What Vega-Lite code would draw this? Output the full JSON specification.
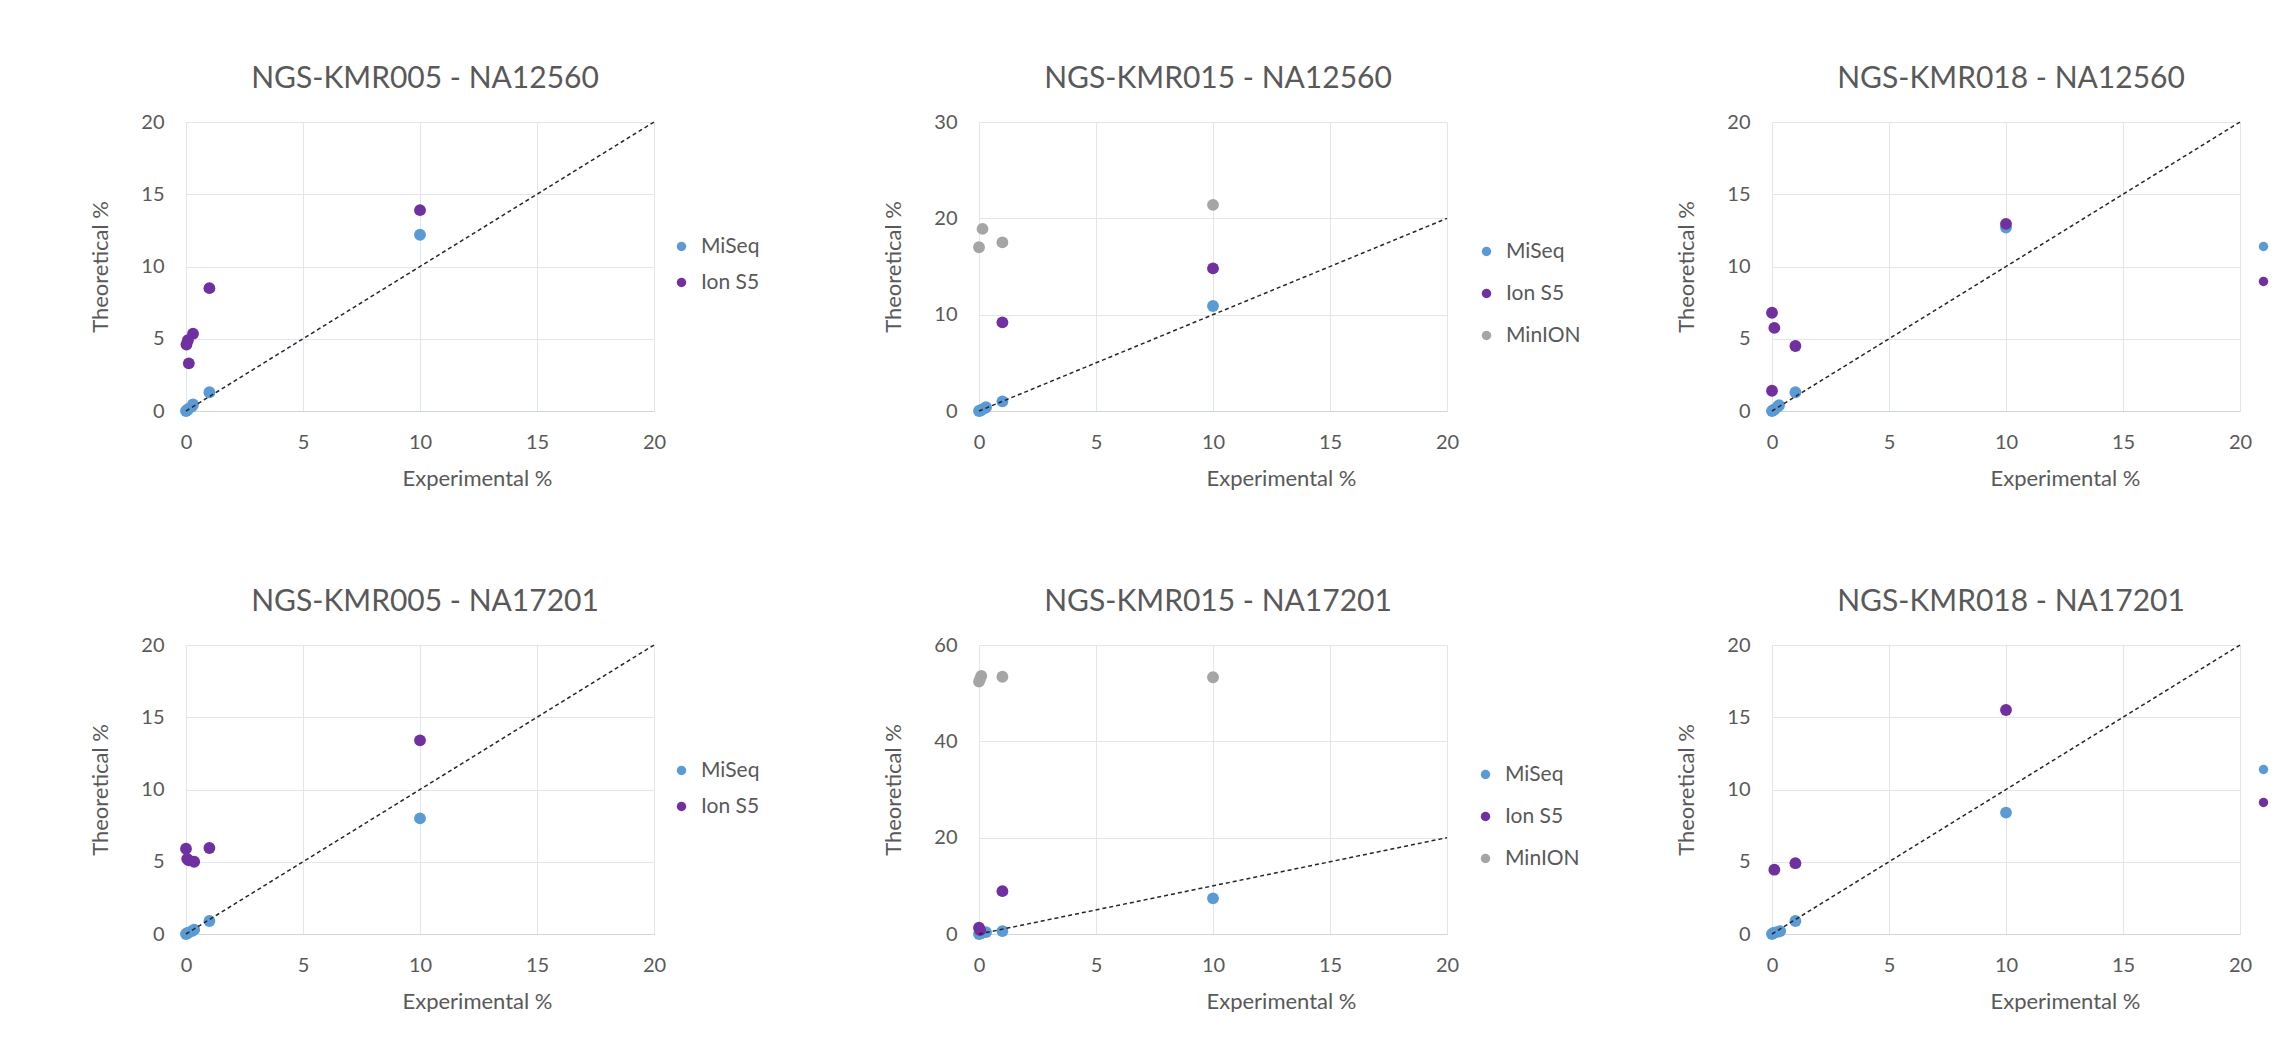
{
  "$schema": "https://vega.github.io/schema/vega-lite/v6.json",
  "background": "white",
  "padding": {"left": 89, "top": 64, "right": 0, "bottom": 0},
  "bounds": "flush",
  "columns": 3,
  "spacing": {"row": 234, "column": 325},
  "datasets": {
    "pts": [
      {"panel": "p1", "platform": "MiSeq", "exp": 0, "theo": 0},
      {"panel": "p1", "platform": "MiSeq", "exp": 0.05, "theo": 0.05},
      {"panel": "p1", "platform": "MiSeq", "exp": 0.1, "theo": 0.15},
      {"panel": "p1", "platform": "MiSeq", "exp": 0.25, "theo": 0.3},
      {"panel": "p1", "platform": "MiSeq", "exp": 0.3, "theo": 0.45},
      {"panel": "p1", "platform": "MiSeq", "exp": 1, "theo": 1.3},
      {"panel": "p1", "platform": "MiSeq", "exp": 10, "theo": 12.2},
      {"panel": "p1", "platform": "Ion S5", "exp": 0.02, "theo": 4.6},
      {"panel": "p1", "platform": "Ion S5", "exp": 0.08, "theo": 4.9},
      {"panel": "p1", "platform": "Ion S5", "exp": 0.12, "theo": 3.3},
      {"panel": "p1", "platform": "Ion S5", "exp": 0.3, "theo": 5.35},
      {"panel": "p1", "platform": "Ion S5", "exp": 1, "theo": 8.5},
      {"panel": "p1", "platform": "Ion S5", "exp": 10, "theo": 13.9},

      {"panel": "p2", "platform": "MiSeq", "exp": 0, "theo": 0},
      {"panel": "p2", "platform": "MiSeq", "exp": 0.05, "theo": 0.05},
      {"panel": "p2", "platform": "MiSeq", "exp": 0.1, "theo": 0.1},
      {"panel": "p2", "platform": "MiSeq", "exp": 0.25, "theo": 0.3},
      {"panel": "p2", "platform": "MiSeq", "exp": 0.3, "theo": 0.4},
      {"panel": "p2", "platform": "MiSeq", "exp": 1, "theo": 1.0},
      {"panel": "p2", "platform": "MiSeq", "exp": 10, "theo": 10.9},
      {"panel": "p2", "platform": "Ion S5", "exp": 1, "theo": 9.2},
      {"panel": "p2", "platform": "Ion S5", "exp": 10, "theo": 14.8},
      {"panel": "p2", "platform": "MinION", "exp": 0, "theo": 17.0},
      {"panel": "p2", "platform": "MinION", "exp": 0.15, "theo": 18.9},
      {"panel": "p2", "platform": "MinION", "exp": 1, "theo": 17.5},
      {"panel": "p2", "platform": "MinION", "exp": 10, "theo": 21.4},

      {"panel": "p3", "platform": "MiSeq", "exp": 0, "theo": 0},
      {"panel": "p3", "platform": "MiSeq", "exp": 0.05, "theo": 0.05},
      {"panel": "p3", "platform": "MiSeq", "exp": 0.1, "theo": 0.1},
      {"panel": "p3", "platform": "MiSeq", "exp": 0.25, "theo": 0.3},
      {"panel": "p3", "platform": "MiSeq", "exp": 0.3, "theo": 0.4},
      {"panel": "p3", "platform": "MiSeq", "exp": 1, "theo": 1.3},
      {"panel": "p3", "platform": "MiSeq", "exp": 10, "theo": 12.7},
      {"panel": "p3", "platform": "Ion S5", "exp": 0, "theo": 6.8},
      {"panel": "p3", "platform": "Ion S5", "exp": 0.1, "theo": 5.75},
      {"panel": "p3", "platform": "Ion S5", "exp": 0, "theo": 1.4},
      {"panel": "p3", "platform": "Ion S5", "exp": 1, "theo": 4.5},
      {"panel": "p3", "platform": "Ion S5", "exp": 10, "theo": 12.95},

      {"panel": "p4", "platform": "MiSeq", "exp": 0, "theo": 0},
      {"panel": "p4", "platform": "MiSeq", "exp": 0.05, "theo": 0.05},
      {"panel": "p4", "platform": "MiSeq", "exp": 0.1, "theo": 0.1},
      {"panel": "p4", "platform": "MiSeq", "exp": 0.25, "theo": 0.2},
      {"panel": "p4", "platform": "MiSeq", "exp": 0.35, "theo": 0.3},
      {"panel": "p4", "platform": "MiSeq", "exp": 1, "theo": 0.9},
      {"panel": "p4", "platform": "MiSeq", "exp": 10, "theo": 8.0},
      {"panel": "p4", "platform": "Ion S5", "exp": 0, "theo": 5.9},
      {"panel": "p4", "platform": "Ion S5", "exp": 0.05, "theo": 5.2},
      {"panel": "p4", "platform": "Ion S5", "exp": 0.12, "theo": 5.1},
      {"panel": "p4", "platform": "Ion S5", "exp": 0.35, "theo": 5.0},
      {"panel": "p4", "platform": "Ion S5", "exp": 1, "theo": 5.95},
      {"panel": "p4", "platform": "Ion S5", "exp": 10, "theo": 13.4},

      {"panel": "p5", "platform": "MiSeq", "exp": 0, "theo": 0},
      {"panel": "p5", "platform": "MiSeq", "exp": 0.05, "theo": 0.1},
      {"panel": "p5", "platform": "MiSeq", "exp": 0.1, "theo": 0.2},
      {"panel": "p5", "platform": "MiSeq", "exp": 0.3, "theo": 0.4},
      {"panel": "p5", "platform": "MiSeq", "exp": 1, "theo": 0.6},
      {"panel": "p5", "platform": "MiSeq", "exp": 10, "theo": 7.4},
      {"panel": "p5", "platform": "Ion S5", "exp": 0, "theo": 1.3},
      {"panel": "p5", "platform": "Ion S5", "exp": 0.05, "theo": 0.8},
      {"panel": "p5", "platform": "Ion S5", "exp": 1, "theo": 8.9},
      {"panel": "p5", "platform": "MinION", "exp": 0, "theo": 52.4},
      {"panel": "p5", "platform": "MinION", "exp": 0.05, "theo": 53.0},
      {"panel": "p5", "platform": "MinION", "exp": 0.1, "theo": 53.6},
      {"panel": "p5", "platform": "MinION", "exp": 1, "theo": 53.4},
      {"panel": "p5", "platform": "MinION", "exp": 10, "theo": 53.3},

      {"panel": "p6", "platform": "MiSeq", "exp": 0, "theo": 0},
      {"panel": "p6", "platform": "MiSeq", "exp": 0.05, "theo": 0.05},
      {"panel": "p6", "platform": "MiSeq", "exp": 0.1, "theo": 0.1},
      {"panel": "p6", "platform": "MiSeq", "exp": 0.25, "theo": 0.15},
      {"panel": "p6", "platform": "MiSeq", "exp": 0.35, "theo": 0.2},
      {"panel": "p6", "platform": "MiSeq", "exp": 1, "theo": 0.9},
      {"panel": "p6", "platform": "MiSeq", "exp": 10, "theo": 8.4},
      {"panel": "p6", "platform": "Ion S5", "exp": 0.1, "theo": 4.45},
      {"panel": "p6", "platform": "Ion S5", "exp": 1, "theo": 4.9},
      {"panel": "p6", "platform": "Ion S5", "exp": 10, "theo": 15.5}
    ],
    "diag": [
      {"exp": 0, "theo": 0, "exp2": 20, "theo2": 20}
    ]
  },
  "config": {
    "font": "Lato",
    "view": {"stroke": null},
    "title": {"font": "Lato", "fontSize": 30, "fontWeight": "normal", "color": "#595959", "baseline": "alphabetic", "offset": 18, "dx": 5},
    "axis": {
      "labelFont": "Lato", "labelFontSize": 20, "labelColor": "#595959",
      "titleFont": "Lato", "titleFontSize": 22, "titleFontWeight": "normal", "titleColor": "#595959",
      "ticks": false, "domain": false, "gridColor": "#e1e6ec", "gridWidth": 1, "labelFlush": false
    },
    "axisX": {"labelPadding": 21, "titlePadding": 16, "domain": true, "domainColor": "#cdd6e0"},
    "axisY": {"labelPadding": 22, "titlePadding": 28},
    "legend": {
      "orient": "none", "title": null, "padding": 0, "labelFont": "Lato", "labelFontSize": 21,
      "labelColor": "#595959", "symbolType": "circle", "symbolSize": 90, "labelOffset": 9,
      "symbolStrokeWidth": 0
    }
  },
  "resolve": {"scale": {"color": "independent", "x": "independent", "y": "independent"}, "legend": {"color": "independent"}},
  "concat": [
    {
      "title": "NGS-KMR005 - NA12560",
      "width": 468, "height": 289,
      "encoding": {
        "x": {"field": "exp", "type": "quantitative", "scale": {"domain": [0, 20]}, "axis": {"title": "Experimental %", "values": [0, 5, 10, 15, 20], "titleX": 291}},
        "y": {"field": "theo", "type": "quantitative", "scale": {"domain": [0, 20]}, "axis": {"title": "Theoretical %", "values": [0, 5, 10, 15, 20]}}
      },
      "layer": [
        {"data": {"name": "pts"}, "transform": [{"filter": "datum.panel === 'p1'"}],
         "mark": {"type": "circle", "size": 140, "opacity": 1},
         "encoding": {"color": {"field": "platform", "type": "nominal", "sort": null,
           "scale": {"domain": ["MiSeq", "Ion S5"], "range": ["#5B9BD5", "#7030A0"]},
           "legend": {"legendX": 485, "legendY": 114, "rowPadding": 14}}}},
        {"data": {"name": "diag"}, "mark": {"type": "rule", "strokeDash": [4, 3], "color": "#262626", "strokeWidth": 1.5},
         "encoding": {"x2": {"field": "exp2"}, "y2": {"field": "theo2"}}}
      ]
    },
    {
      "title": "NGS-KMR015 - NA12560",
      "width": 468, "height": 289,
      "encoding": {
        "x": {"field": "exp", "type": "quantitative", "scale": {"domain": [0, 20]}, "axis": {"title": "Experimental %", "values": [0, 5, 10, 15, 20], "titleX": 302}},
        "y": {"field": "theo", "type": "quantitative", "scale": {"domain": [0, 30]}, "axis": {"title": "Theoretical %", "values": [0, 10, 20, 30]}}
      },
      "layer": [
        {"data": {"name": "pts"}, "transform": [{"filter": "datum.panel === 'p2'"}],
         "mark": {"type": "circle", "size": 140, "opacity": 1},
         "encoding": {"color": {"field": "platform", "type": "nominal", "sort": null,
           "scale": {"domain": ["MiSeq", "Ion S5", "MinION"], "range": ["#5B9BD5", "#7030A0", "#A5A5A5"]},
           "legend": {"legendX": 497, "legendY": 119, "rowPadding": 20}}}},
        {"data": {"name": "diag"}, "mark": {"type": "rule", "strokeDash": [4, 3], "color": "#262626", "strokeWidth": 1.5},
         "encoding": {"x2": {"field": "exp2"}, "y2": {"field": "theo2"}}}
      ]
    },
    {
      "title": "NGS-KMR018 - NA12560",
      "width": 468, "height": 289,
      "encoding": {
        "x": {"field": "exp", "type": "quantitative", "scale": {"domain": [0, 20]}, "axis": {"title": "Experimental %", "values": [0, 5, 10, 15, 20], "titleX": 293}},
        "y": {"field": "theo", "type": "quantitative", "scale": {"domain": [0, 20]}, "axis": {"title": "Theoretical %", "values": [0, 5, 10, 15, 20]}}
      },
      "layer": [
        {"data": {"name": "pts"}, "transform": [{"filter": "datum.panel === 'p3'"}],
         "mark": {"type": "circle", "size": 140, "opacity": 1},
         "encoding": {"color": {"field": "platform", "type": "nominal", "sort": null,
           "scale": {"domain": ["MiSeq", "Ion S5"], "range": ["#5B9BD5", "#7030A0"]},
           "legend": {"legendX": 481, "legendY": 114, "rowPadding": 13}}}},
        {"data": {"name": "diag"}, "mark": {"type": "rule", "strokeDash": [4, 3], "color": "#262626", "strokeWidth": 1.5},
         "encoding": {"x2": {"field": "exp2"}, "y2": {"field": "theo2"}}}
      ]
    },
    {
      "title": "NGS-KMR005 - NA17201",
      "width": 468, "height": 289,
      "encoding": {
        "x": {"field": "exp", "type": "quantitative", "scale": {"domain": [0, 20]}, "axis": {"title": "Experimental %", "values": [0, 5, 10, 15, 20], "titleX": 291}},
        "y": {"field": "theo", "type": "quantitative", "scale": {"domain": [0, 20]}, "axis": {"title": "Theoretical %", "values": [0, 5, 10, 15, 20]}}
      },
      "layer": [
        {"data": {"name": "pts"}, "transform": [{"filter": "datum.panel === 'p4'"}],
         "mark": {"type": "circle", "size": 140, "opacity": 1},
         "encoding": {"color": {"field": "platform", "type": "nominal", "sort": null,
           "scale": {"domain": ["MiSeq", "Ion S5"], "range": ["#5B9BD5", "#7030A0"]},
           "legend": {"legendX": 485, "legendY": 115, "rowPadding": 14}}}},
        {"data": {"name": "diag"}, "mark": {"type": "rule", "strokeDash": [4, 3], "color": "#262626", "strokeWidth": 1.5},
         "encoding": {"x2": {"field": "exp2"}, "y2": {"field": "theo2"}}}
      ]
    },
    {
      "title": "NGS-KMR015 - NA17201",
      "width": 468, "height": 289,
      "encoding": {
        "x": {"field": "exp", "type": "quantitative", "scale": {"domain": [0, 20]}, "axis": {"title": "Experimental %", "values": [0, 5, 10, 15, 20], "titleX": 302}},
        "y": {"field": "theo", "type": "quantitative", "scale": {"domain": [0, 60]}, "axis": {"title": "Theoretical %", "values": [0, 20, 40, 60]}}
      },
      "layer": [
        {"data": {"name": "pts"}, "transform": [{"filter": "datum.panel === 'p5'"}],
         "mark": {"type": "circle", "size": 140, "opacity": 1},
         "encoding": {"color": {"field": "platform", "type": "nominal", "sort": null,
           "scale": {"domain": ["MiSeq", "Ion S5", "MinION"], "range": ["#5B9BD5", "#7030A0", "#A5A5A5"]},
           "legend": {"legendX": 496, "legendY": 119, "rowPadding": 20}}}},
        {"data": {"name": "diag"}, "mark": {"type": "rule", "strokeDash": [4, 3], "color": "#262626", "strokeWidth": 1.5},
         "encoding": {"x2": {"field": "exp2"}, "y2": {"field": "theo2"}}}
      ]
    },
    {
      "title": "NGS-KMR018 - NA17201",
      "width": 468, "height": 289,
      "encoding": {
        "x": {"field": "exp", "type": "quantitative", "scale": {"domain": [0, 20]}, "axis": {"title": "Experimental %", "values": [0, 5, 10, 15, 20], "titleX": 293}},
        "y": {"field": "theo", "type": "quantitative", "scale": {"domain": [0, 20]}, "axis": {"title": "Theoretical %", "values": [0, 5, 10, 15, 20]}}
      },
      "layer": [
        {"data": {"name": "pts"}, "transform": [{"filter": "datum.panel === 'p6'"}],
         "mark": {"type": "circle", "size": 140, "opacity": 1},
         "encoding": {"color": {"field": "platform", "type": "nominal", "sort": null,
           "scale": {"domain": ["MiSeq", "Ion S5"], "range": ["#5B9BD5", "#7030A0"]},
           "legend": {"legendX": 481, "legendY": 114, "rowPadding": 11}}}},
        {"data": {"name": "diag"}, "mark": {"type": "rule", "strokeDash": [4, 3], "color": "#262626", "strokeWidth": 1.5},
         "encoding": {"x2": {"field": "exp2"}, "y2": {"field": "theo2"}}}
      ]
    }
  ]
}
